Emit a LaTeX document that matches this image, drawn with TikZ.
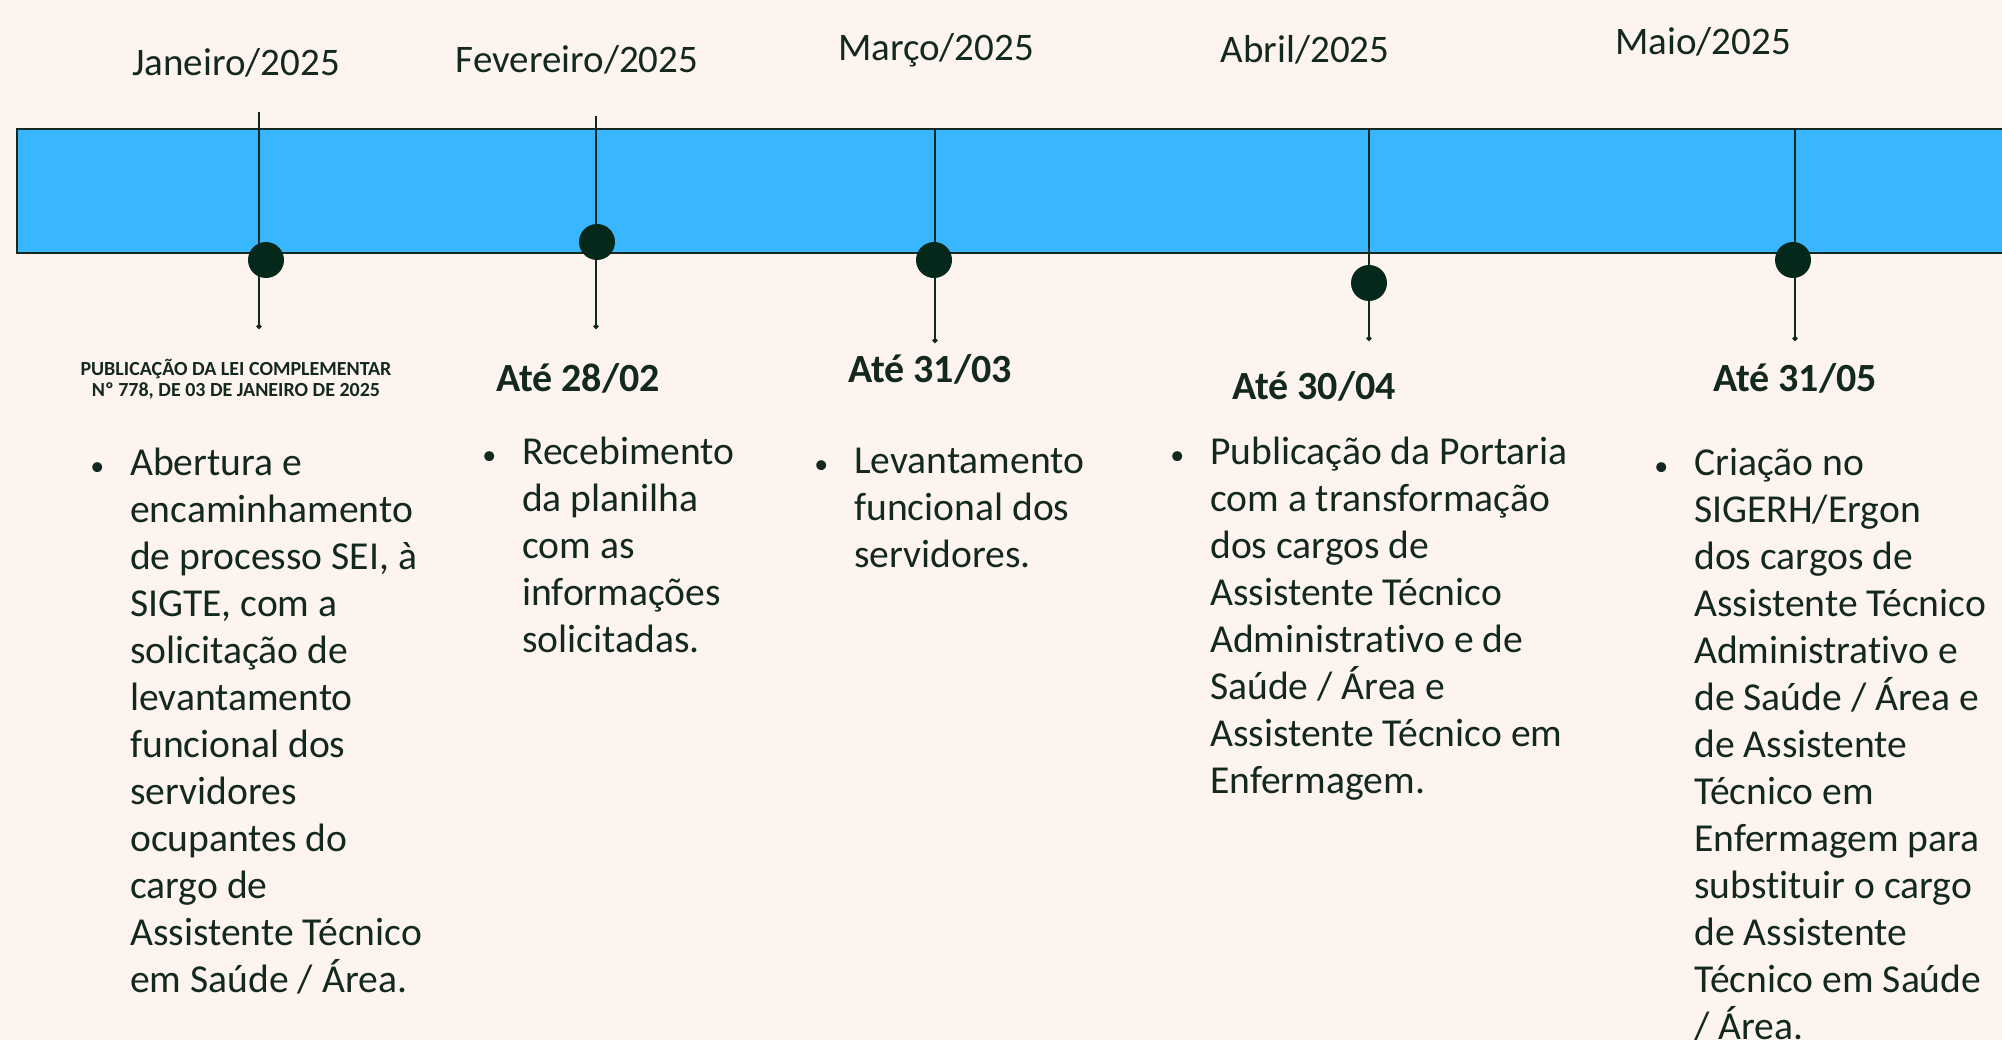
\documentclass[tikz,border=0pt]{standalone}
\usepackage{fontspec}
\setmainfont{Carlito}[Ligatures=NoCommon]
\usetikzlibrary{arrows.meta}
\definecolor{paper}{HTML}{FDF4EF}
\definecolor{band}{HTML}{38B6FF}
\definecolor{ink}{HTML}{13291F}
\definecolor{dotc}{HTML}{04281A}
\newcommand{\itembullet}{\llap{{\fontsize{28}{28}\selectfont\textbullet}\hspace{26pt}}}
\tikzset{
    month-label/.style = {text=ink, font=\fontsize{39}{46}\selectfont, inner sep=0pt},
    date-label/.style = {text=ink, font=\fontsize{40}{46}\selectfont\bfseries, inner sep=0pt},
    law-label/.style = {text=ink, font=\fontsize{20}{21}\selectfont\bfseries, align=center, inner sep=0pt},
    item-list/.style = {text=ink, font=\fontsize{39.6}{47}\selectfont, align=left, anchor=north west, inner sep=0pt},
    mark-dot/.style = {circle, fill=dotc, minimum size=36pt, inner sep=0pt},
    stem-line/.style = {draw=ink, line width=1.6pt, -{Circle[length=5pt]}},
}
\begin{document}
\begin{tikzpicture}[x=1pt, y=-1pt]
\useasboundingbox (0,0) rectangle (2002,1040);
\fill[paper] (0,0) rectangle (2002,1040);
\clip (0,0) rectangle (2002,1040);
\draw[ink, fill=band, line width=1.6pt] (17,129) rectangle (2030,253);

% Janeiro
\node[month-label] (jan) at (236,63) {Janeiro/2025};
\coordinate (jan-top) at (259,112);
\coordinate (jan-end) at (259,329);
\draw[stem-line] (jan-top) -- (jan-end);
\node[mark-dot] (jan-dot) at (266,260) {};
\node[law-label] (jan-date) at (236,379) {PUBLICAÇÃO DA LEI COMPLEMENTAR\\Nº 778, DE 03 DE JANEIRO DE 2025};
\node[item-list] (jan-list) at (130,448) {\itembullet Abertura e\\encaminhamento\\de processo SEI, à\\SIGTE, com a\\solicitação de\\levantamento\\funcional dos\\servidores\\ocupantes do\\cargo de\\Assistente Técnico\\em Saúde / Área.};

% Fevereiro
\node[month-label] (feb) at (577,60) {Fevereiro/2025};
\coordinate (feb-top) at (596,116);
\coordinate (feb-end) at (596,329);
\draw[stem-line] (feb-top) -- (feb-end);
\node[mark-dot] (feb-dot) at (597,242) {};
\node[date-label] (feb-date) at (578,378) {Até 28/02};
\node[item-list] (feb-list) at (522,437) {\itembullet Recebimento\\da planilha\\com as\\informações\\solicitadas.};

% Março
\node[month-label] (mar) at (936,50) {Março/2025};
\coordinate (mar-top) at (935,129);
\coordinate (mar-end) at (935,343);
\draw[stem-line] (mar-top) -- (mar-end);
\node[mark-dot] (mar-dot) at (934,260) {};
\node[date-label] (mar-date) at (930,369) {Até 31/03};
\node[item-list] (mar-list) at (854,448) {\itembullet Levantamento\\funcional dos\\servidores.};

% Abril
\node[month-label] (apr) at (1305,50) {Abril/2025};
\coordinate (apr-top) at (1369,129);
\coordinate (apr-end) at (1369,341);
\draw[stem-line] (apr-top) -- (apr-end);
\node[mark-dot] (apr-dot) at (1369,283) {};
\node[date-label] (apr-date) at (1314,386) {Até 30/04};
\node[item-list] (apr-list) at (1210,437) {\itembullet Publicação da Portaria\\com a transformação\\dos cargos de\\Assistente Técnico\\Administrativo e de\\Saúde / Área e\\Assistente Técnico em\\Enfermagem.};

% Maio
\node[month-label] (may) at (1703,42) {Maio/2025};
\coordinate (may-top) at (1795,129);
\coordinate (may-end) at (1795,341);
\draw[stem-line] (may-top) -- (may-end);
\node[mark-dot] (may-dot) at (1793,260) {};
\node[date-label] (may-date) at (1795,378) {Até 31/05};
\node[item-list] (may-list) at (1694,448) {\itembullet Criação no\\SIGERH/Ergon\\dos cargos de\\Assistente Técnico\\Administrativo e\\de Saúde / Área e\\de Assistente\\Técnico em\\Enfermagem para\\substituir o cargo\\de Assistente\\Técnico em Saúde\\/ Área.};
\end{tikzpicture}
\end{document}
